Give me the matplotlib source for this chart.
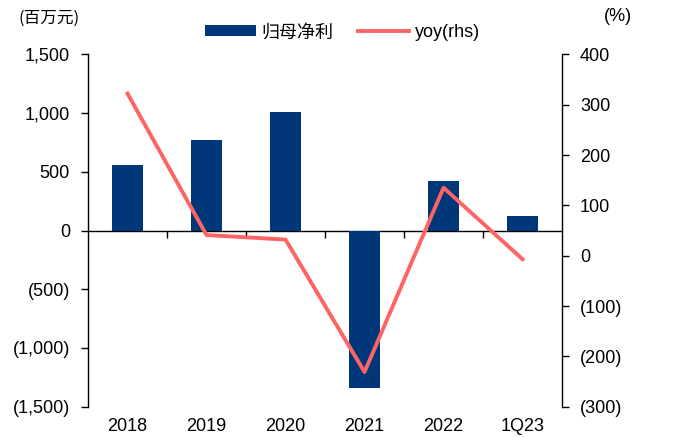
import numpy as np
import matplotlib
matplotlib.use("Agg")
import matplotlib.pyplot as plt
from matplotlib.ticker import FuncFormatter

plt.rcParams['font.family'] = ['Liberation Sans', 'Noto Sans CJK SC', 'DejaVu Sans']

categories = ['2018', '2019', '2020', '2021', '2022', '1Q23']
net_profit = [554, 767, 1008, -1338, 423, 122]   # 百万元
yoy = [322, 41, 32, -231, 135, -7]               # %

bar_color = '#003778'
line_color = '#FF6464'

def paren_fmt(v, pos):
    if v < 0:
        return '({:,.0f})'.format(-v)
    return '{:,.0f}'.format(v)

fig = plt.figure(figsize=(6.78, 4.37), dpi=100)
ax = fig.add_axes([0.1298, 0.0693, 0.6992, 0.8064])
x = np.arange(len(categories))

bars = ax.bar(x, net_profit, width=0.4, color=bar_color, zorder=2)
ax.set_xlim(-0.5, len(categories) - 0.5)
ax.set_ylim(-1500, 1500)
ax.set_yticks(np.arange(-1500, 1501, 500))
ax.yaxis.set_major_formatter(FuncFormatter(paren_fmt))
ax.set_xticks(x)
ax.set_xticklabels(categories)
ax.tick_params(axis='x', length=0, pad=8, labelsize=13)
ax.tick_params(axis='y', length=5, width=1, labelsize=13, pad=8)
for s in ['top', 'right', 'bottom']:
    ax.spines[s].set_visible(False)
ax.spines['left'].set_linewidth(1)

# zero line with ticks between categories (pointing down)
sec = ax.secondary_xaxis(0.5)
sec.set_alignment('bottom')
sec.set_xticks(np.arange(0.5, len(categories) - 1, 1.0))
sec.set_xticklabels([])
sec.tick_params(axis='x', length=5, width=1, direction='out')
sec.spines['bottom'].set_linewidth(1)

ax2 = ax.twinx()
ln, = ax2.plot(x, yoy, color=line_color, lw=2.8, zorder=3)
ax2.set_ylim(-300, 400)
ax2.set_yticks(np.arange(-300, 401, 100))
ax2.yaxis.set_major_formatter(FuncFormatter(paren_fmt))
ax2.tick_params(axis='y', length=5, width=1, labelsize=13, pad=8)
for s in ['top', 'left', 'bottom']:
    ax2.spines[s].set_visible(False)
ax2.spines['right'].set_linewidth(1)

fig.text(0.027, 0.958, '(百万元)', fontsize=12, ha='left', va='center',
         family=['Noto Sans CJK SC', 'DejaVu Sans'])
fig.text(0.912, 0.962, '(%)', fontsize=13, ha='center', va='center')

fig.legend([bars, ln], ['归母净利', 'yoy(rhs)'], loc='center', ncol=2,
           bbox_to_anchor=(0.505, 0.925), frameon=False, fontsize=13,
           handlelength=2.8, handleheight=0.55, handletextpad=0.3,
           columnspacing=1.4)

fig.savefig('out.png', dpi=100)
